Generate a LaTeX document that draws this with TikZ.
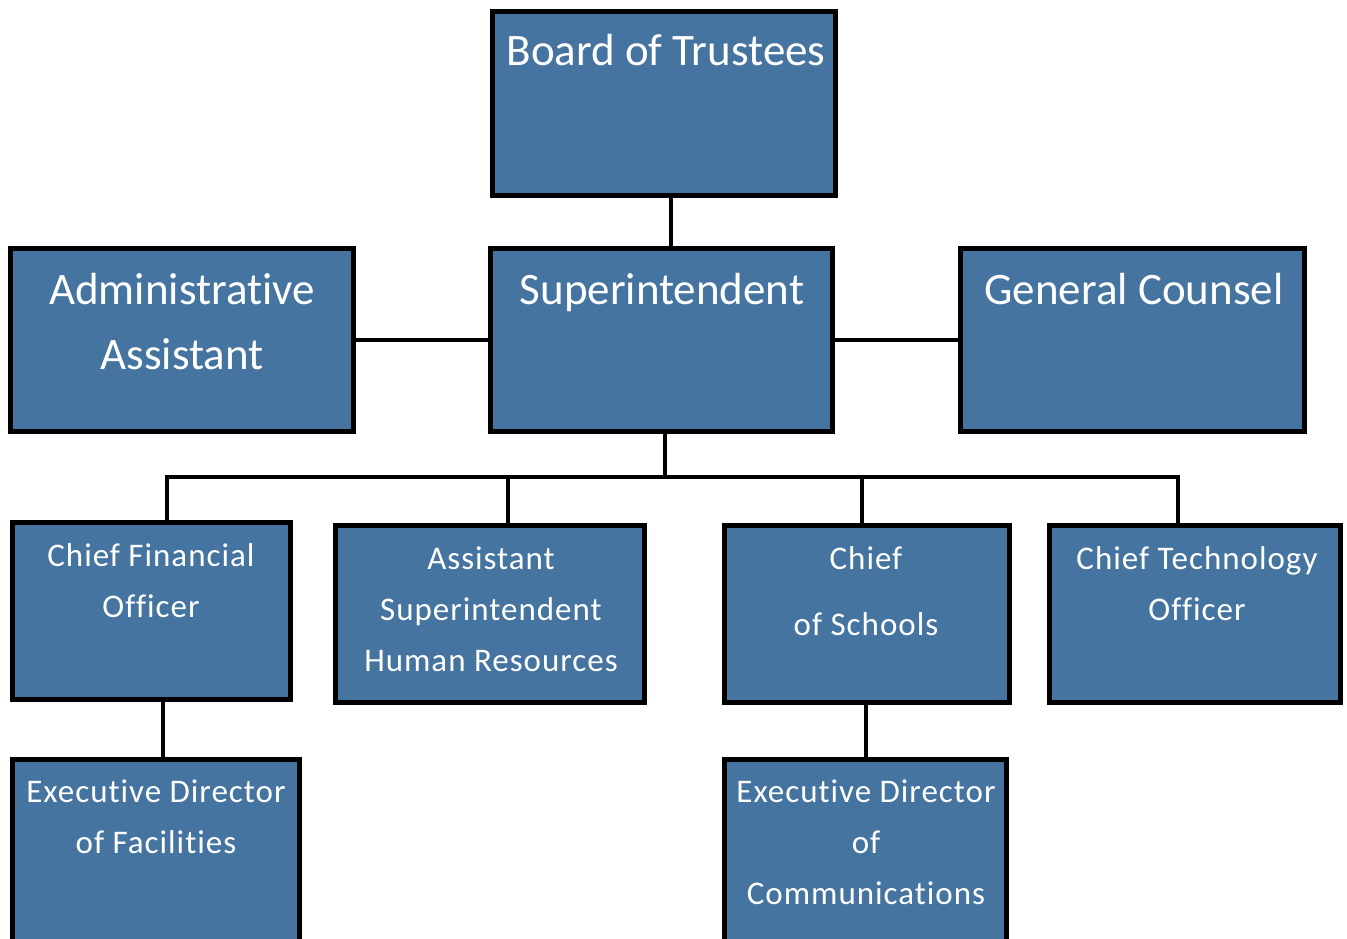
\documentclass[tikz,border=0pt]{standalone}
\usepackage{fontspec}
\setmainfont[Ligatures=NoCommon]{Carlito}
\newfontfamily\smallfam[Ligatures=NoCommon,LetterSpace=3]{Carlito}
\definecolor{boxblue}{RGB}{68,116,159}
\begin{document}
\begin{tikzpicture}[x=1pt,y=-1pt,
  box/.style={draw=black, line width=5.5pt, fill=boxblue, rectangle, anchor=north west, inner sep=0pt, outer sep=0pt},
  big/.style={text=white, font=\fontsize{45}{65}\selectfont, align=center, anchor=base, inner sep=0pt},
  small/.style={text=white, font=\smallfam\fontsize{33}{51}\selectfont, align=center, anchor=base, inner sep=0pt},
  link/.style={draw=black, line width=4pt}]
\useasboundingbox (0,0) rectangle (1347,939);
% boxes
\node[box, minimum width=343pt, minimum height=184pt] (board) at (492.5,11.5) {};
\node[box, minimum width=343pt, minimum height=183pt] (admin) at (10.5,248.5) {};
\node[box, minimum width=342pt, minimum height=183pt] (supt) at (490.5,248.5) {};
\node[box, minimum width=344pt, minimum height=183pt] (gc) at (960.5,248.5) {};
\node[box, minimum width=278pt, minimum height=177pt] (cfo) at (12.5,522.5) {};
\node[box, minimum width=309pt, minimum height=177pt] (asst) at (335.5,525.5) {};
\node[box, minimum width=285pt, minimum height=177pt] (chief) at (724.5,525.5) {};
\node[box, minimum width=291pt, minimum height=177pt] (cto) at (1049.5,525.5) {};
\node[box, minimum width=287pt, minimum height=210pt] (edf) at (12.5,759.5) {};
\node[box, minimum width=282pt, minimum height=210pt] (edc) at (724.5,759.5) {};
% texts (anchor base = baseline of last line)
\node[big] (tboard) at (666,66) {Board of Trustees};
\node[big] (tadmin) at (182,369) {Administrative\\Assistant};
\node[big] (tsupt) at (662,304) {Superintendent};
\node[big] (tgc) at (1134,304) {General Counsel};
\node[small] (tcfo) at (151,617) {Chief Financial\\Officer};
\node[small] (tasst) at (491,671) {Assistant\\Superintendent\\Human Resources};
\node[small] (tchief) at (866,635) {Chief\\[15pt]of Schools};
\node[small] (tcto) at (1197,620) {Chief Technology\\Officer};
\node[small] (tedf) at (156,853) {Executive Director\\of Facilities};
\node[small] (tedc) at (866,904) {Executive Director\\of\\Communications};
% connectors
\draw[link] ([xshift=7pt]board.south) -- ([xshift=7pt]board.south |- supt.north);
\draw[link] (admin.east) -- (supt.west);
\draw[link] (supt.east) -- (gc.west);
\coordinate (busL) at (167,477);
\coordinate (busA) at (508,477);
\coordinate (busC) at (862,477);
\coordinate (busR) at (1178,477);
\draw[link] ([xshift=3.5pt]supt.south) -- ([xshift=3.5pt]supt.south |- busL);
\draw[link] ([xshift=-2pt]busL) -- ([xshift=2pt]busR);
\draw[link] (busL) -- (busL |- cfo.north);
\draw[link] (busA) -- (busA |- asst.north);
\draw[link] (busC) -- (busC |- chief.north);
\draw[link] (busR) -- (busR |- cto.north);
\draw[link] ([xshift=11.5pt]cfo.south) -- ([xshift=11.5pt]cfo.south |- edf.north);
\draw[link] ([xshift=-1pt]chief.south) -- ([xshift=-1pt]chief.south |- edc.north);
\end{tikzpicture}
\end{document}
